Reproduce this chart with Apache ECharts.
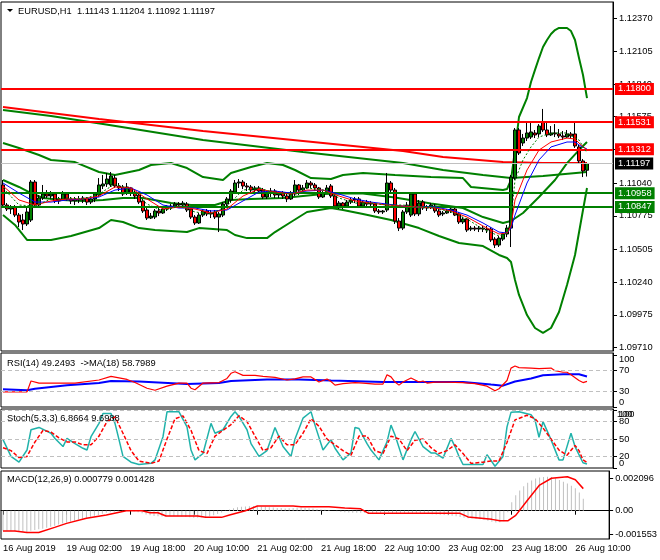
<!DOCTYPE html>
<html><head><meta charset="utf-8">
<script src="https://cdn.jsdelivr.net/npm/echarts@6/dist/echarts.min.js"></script>
<style>html,body{margin:0;padding:0;background:#fff}#c{width:660px;height:560px}</style>
</head><body><div id="c"></div>
<script>
// ---------- data ----------
const symbolName = 'EURUSD,H1';
const lastOHLC = ['1.11143','1.11204','1.11092','1.11197'];
const SLOTS = 153;
const timeTicks = ['16 Aug 2019','19 Aug 02:00','19 Aug 18:00','20 Aug 10:00','21 Aug 02:00','21 Aug 18:00','22 Aug 10:00','23 Aug 02:00','23 Aug 18:00','26 Aug 10:00'];
const priceTicks = [1.12370,1.12105,1.11840,1.11575,1.11310,1.11040,1.10775,1.10505,1.10240,1.09975,1.09710];
const rsiTicks = [100,70,30,0];
const stochTicks = [100,80,50,20,0];
const macdTicks = [0.002096,0,-0.001553];
const redLevels = [1.11800,1.11531,1.11312];
const greenLevels = [1.10958,1.10847];
const lastPrice = 1.11197;

const open = [
1.11024,1.10862,1.10830,1.10846,1.10781,1.10741,1.10709,1.10741,1.11048,1.10862,
1.10919,1.10951,1.10935,1.10951,1.10895,1.10911,1.10951,1.10911,1.10895,1.10911,
1.10903,1.10919,1.10886,1.10911,1.10943,1.11016,1.11032,1.11024,1.11080,1.11016,
1.11008,1.10959,1.11000,1.10959,1.10943,1.10895,1.10822,1.10757,1.10765,1.10814,
1.10798,1.10830,1.10846,1.10854,1.10870,1.10862,1.10870,1.10830,1.10765,1.10717,
1.10781,1.10814,1.10790,1.10806,1.10765,1.10781,1.10870,1.10903,1.10967,1.11040,
1.11048,1.11016,1.11008,1.10983,1.11000,1.10983,1.10927,1.10959,1.10975,1.10943,
1.10959,1.10935,1.10911,1.10951,1.11024,1.10983,1.11000,1.11040,1.11024,1.11000,
1.10927,1.10959,1.11016,1.10935,1.10854,1.10878,1.10854,1.10886,1.10903,1.10911,
1.10854,1.10886,1.10870,1.10870,1.10814,1.10806,1.10822,1.11040,1.10983,1.10733,
1.10676,1.10806,1.10781,1.10951,1.10790,1.10886,1.10838,1.10846,1.10854,1.10814,
1.10790,1.10798,1.10814,1.10830,1.10790,1.10725,1.10749,1.10668,1.10676,1.10668,
1.10676,1.10668,1.10668,1.10587,1.10539,1.10587,1.10628,1.10676,1.11080,1.11468,
1.11363,1.11403,1.11411,1.11444,1.11436,1.11533,1.11468,1.11428,1.11444,1.11436,
1.11420,1.11411,1.11436,1.11436,1.11331,1.11218,1.11143];
const close = [
1.10862,1.10830,1.10846,1.10781,1.10725,1.10709,1.10806,1.11048,1.10862,1.10919,
1.10951,1.10935,1.10951,1.10895,1.10911,1.10951,1.10911,1.10895,1.10911,1.10903,
1.10919,1.10886,1.10911,1.10951,1.11024,1.11032,1.11072,1.11097,1.11016,1.11000,
1.10951,1.11008,1.10959,1.10935,1.10886,1.10814,1.10757,1.10773,1.10814,1.10798,
1.10830,1.10846,1.10854,1.10870,1.10862,1.10878,1.10822,1.10765,1.10717,1.10781,
1.10814,1.10790,1.10798,1.10765,1.10790,1.10870,1.10911,1.10975,1.11040,1.11048,
1.11016,1.11008,1.10983,1.11000,1.10975,1.10927,1.10959,1.10975,1.10943,1.10959,
1.10935,1.10911,1.10951,1.11024,1.10983,1.11000,1.11040,1.11024,1.11000,1.10927,
1.10959,1.11000,1.10935,1.10854,1.10878,1.10854,1.10886,1.10903,1.10911,1.10854,
1.10886,1.10870,1.10878,1.10814,1.10806,1.10814,1.11040,1.10983,1.10733,1.10676,
1.10806,1.10862,1.10951,1.10790,1.10878,1.10838,1.10846,1.10862,1.10814,1.10781,
1.10798,1.10814,1.10830,1.10781,1.10725,1.10749,1.10660,1.10676,1.10668,1.10676,
1.10668,1.10660,1.10580,1.10539,1.10595,1.10628,1.10676,1.11088,1.11468,1.11282,
1.11403,1.11444,1.11452,1.11428,1.11500,1.11468,1.11428,1.11444,1.11436,1.11420,
1.11411,1.11436,1.11420,1.11339,1.11218,1.11137,1.11197];
const low = [
1.10846,1.10814,1.10790,1.10765,1.10684,1.10660,1.10693,1.10725,1.10838,1.10846,
1.10903,1.10919,1.10911,1.10878,1.10870,1.10903,1.10895,1.10870,1.10862,1.10878,
1.10878,1.10862,1.10870,1.10886,1.10927,1.10991,1.11008,1.11008,1.11000,1.10975,
1.10935,1.10943,1.10935,1.10911,1.10870,1.10798,1.10741,1.10749,1.10749,1.10773,
1.10790,1.10814,1.10822,1.10838,1.10846,1.10854,1.10806,1.10749,1.10701,1.10709,
1.10765,1.10773,1.10757,1.10749,1.10644,1.10765,1.10846,1.10886,1.10951,1.11000,
1.10991,1.10975,1.10959,1.10959,1.10959,1.10911,1.10911,1.10927,1.10919,1.10919,
1.10911,1.10886,1.10903,1.10935,1.10943,1.10951,1.10991,1.11000,1.10975,1.10911,
1.10919,1.10951,1.10919,1.10838,1.10830,1.10830,1.10838,1.10870,1.10878,1.10838,
1.10838,1.10854,1.10846,1.10798,1.10790,1.10790,1.10806,1.10967,1.10709,1.10652,
1.10660,1.10790,1.10765,1.10773,1.10773,1.10822,1.10814,1.10830,1.10798,1.10765,
1.10773,1.10790,1.10798,1.10773,1.10709,1.10709,1.10644,1.10652,1.10652,1.10644,
1.10644,1.10636,1.10564,1.10515,1.10523,1.10572,1.10603,1.10523,1.11064,1.11266,
1.11339,1.11379,1.11395,1.11403,1.11411,1.11452,1.11411,1.11420,1.11411,1.11403,
1.11387,1.11403,1.11403,1.11323,1.11201,1.11088,1.11092];
const high = [
1.11064,1.10878,1.10862,1.10862,1.10798,1.10790,1.10838,1.11064,1.11064,1.10943,
1.11024,1.10983,1.10975,1.10967,1.10927,1.10975,1.10967,1.10927,1.10927,1.10935,
1.10935,1.10927,1.10927,1.10967,1.11080,1.11105,1.11121,1.11129,1.11105,1.11040,
1.11024,1.11040,1.11008,1.10983,1.10967,1.10911,1.10846,1.10798,1.10830,1.10838,
1.10846,1.10862,1.10870,1.10886,1.10886,1.10895,1.10886,1.10846,1.10781,1.10798,
1.10830,1.10830,1.10822,1.10822,1.10806,1.10886,1.10927,1.10991,1.11064,1.11072,
1.11064,1.11040,1.11024,1.11016,1.11016,1.11000,1.10975,1.11000,1.10991,1.10975,
1.10975,1.10959,1.10975,1.11064,1.11032,1.11024,1.11064,1.11056,1.11040,1.11008,
1.10975,1.11024,1.11032,1.10951,1.10895,1.10886,1.10903,1.10919,1.10927,1.10927,
1.10895,1.10903,1.10895,1.10878,1.10830,1.10822,1.11121,1.11056,1.11000,1.10757,
1.10822,1.10886,1.10967,1.10967,1.10903,1.10903,1.10862,1.10878,1.10870,1.10830,
1.10814,1.10830,1.10846,1.10846,1.10806,1.10765,1.10757,1.10693,1.10693,1.10693,
1.10693,1.10693,1.10684,1.10603,1.10612,1.10644,1.10701,1.11105,1.11484,1.11484,
1.11436,1.11525,1.11525,1.11468,1.11516,1.11638,1.11533,1.11500,1.11516,1.11476,
1.11460,1.11468,1.11452,1.11525,1.11347,1.11234,1.11204];

const maRedLong = [[0,1.11654],[24,1.11557],[50,1.11460],[75,1.11379],[100,1.11298],[110,1.11250],[125,1.11209],[135,1.11201],[146,1.11201]];
const maGreenLong = [[0,1.11629],[12,1.11581],[25,1.11516],[50,1.11387],[75,1.11290],[100,1.11201],[110,1.11145],[120,1.11105],[127,1.11080],[135,1.11097],[146,1.11129]];
const bbUpper = [[0,1.11363],[4,1.11323],[9,1.11266],[12,1.11226],[18,1.11209],[24,1.11129],[28,1.11105],[34,1.11145],[37,1.11185],[42,1.11201],[46,1.11161],[50,1.11088],[55,1.11064],[57,1.11121],[62,1.11169],[66,1.11201],[70,1.11185],[73,1.11145],[77,1.11080],[82,1.11072],[85,1.11105],[90,1.11121],[98,1.11105],[107,1.11088],[115,1.11080],[117,1.11008],[125,1.10983],[126,1.10991],[127,1.11064],[128,1.11306],[129,1.11573],[131,1.11726],[132,1.11856],[133,1.11953],[134,1.12049],[135,1.12138],[136,1.12195],[137,1.12243],[138,1.12275],[139,1.12292],[141,1.12292],[142,1.12267],[143,1.12195],[144,1.12049],[145,1.11912],[146,1.11726]];
const bbLower = [[0,1.10781],[3,1.10701],[6,1.10580],[12,1.10580],[17,1.10612],[24,1.10676],[27,1.10741],[30,1.10725],[34,1.10676],[38,1.10660],[46,1.10644],[49,1.10676],[56,1.10660],[58,1.10620],[61,1.10595],[66,1.10595],[68,1.10644],[72,1.10725],[76,1.10806],[82,1.10838],[85,1.10822],[90,1.10790],[97,1.10741],[104,1.10676],[109,1.10612],[114,1.10555],[120,1.10531],[124,1.10459],[126,1.10434],[127,1.10402],[128,1.10256],[129,1.10136],[131,1.09974],[133,1.09869],[135,1.09829],[137,1.09869],[139,1.09998],[141,1.10216],[143,1.10459],[145,1.10822],[146,1.11000]];
const bbMid = [[0,1.11064],[4,1.11008],[7,1.10959],[10,1.10919],[15,1.10903],[20,1.10895],[25,1.10903],[30,1.10919],[35,1.10919],[42,1.10878],[47,1.10862],[53,1.10862],[57,1.10903],[62,1.10911],[70,1.10919],[80,1.10951],[85,1.10955],[90,1.10955],[98,1.10923],[107,1.10875],[115,1.10838],[120,1.10765],[125,1.10717],[127,1.10733],[130,1.10798],[134,1.10927],[138,1.11064],[141,1.11201],[144,1.11306],[146,1.11371]];
const maFast = [[0,1.11000],[4,1.10862],[8,1.10854],[12,1.10911],[16,1.10919],[20,1.10911],[24,1.10951],[28,1.11032],[32,1.10983],[36,1.10870],[40,1.10814],[44,1.10854],[48,1.10806],[52,1.10790],[56,1.10854],[60,1.10983],[64,1.11000],[68,1.10959],[72,1.10951],[76,1.11000],[80,1.10983],[84,1.10919],[88,1.10878],[92,1.10878],[96,1.10862],[100,1.10862],[104,1.10846],[108,1.10838],[112,1.10806],[116,1.10749],[120,1.10668],[124,1.10612],[126,1.10636],[127,1.10741],[128,1.11064],[130,1.11226],[132,1.11331],[134,1.11411],[137,1.11444],[141,1.11444],[144,1.11387],[146,1.11282]];
const maMid = [[0,1.11016],[4,1.10903],[8,1.10862],[12,1.10895],[16,1.10911],[20,1.10911],[24,1.10935],[28,1.11008],[32,1.11000],[36,1.10911],[40,1.10830],[44,1.10846],[48,1.10830],[52,1.10798],[56,1.10830],[60,1.10935],[64,1.10991],[68,1.10967],[72,1.10951],[76,1.10983],[80,1.10983],[84,1.10935],[88,1.10895],[92,1.10878],[96,1.10862],[100,1.10854],[104,1.10846],[108,1.10838],[112,1.10814],[116,1.10765],[120,1.10693],[124,1.10628],[126,1.10636],[127,1.10693],[128,1.10903],[129,1.10983],[131,1.11145],[134,1.11306],[137,1.11371],[141,1.11403],[143,1.11395],[144,1.11363],[146,1.11306]];
const maSlow = [[0,1.11040],[4,1.10959],[8,1.10886],[12,1.10886],[16,1.10903],[20,1.10911],[24,1.10927],[28,1.10983],[32,1.11000],[36,1.10943],[40,1.10862],[44,1.10838],[48,1.10838],[52,1.10814],[56,1.10822],[60,1.10895],[64,1.10967],[68,1.10975],[72,1.10959],[76,1.10975],[80,1.10983],[84,1.10951],[88,1.10911],[92,1.10886],[96,1.10870],[100,1.10854],[104,1.10846],[108,1.10846],[112,1.10822],[116,1.10781],[120,1.10717],[124,1.10644],[126,1.10636],[127,1.10676],[128,1.10781],[131,1.11040],[134,1.11226],[137,1.11331],[141,1.11371],[143,1.11371],[144,1.11347],[146,1.11314]];

const rsi = [[0,29],[6,29],[7,50],[9,46],[12,46],[18,46],[24,52],[27,59],[31,53],[33,47],[36,36],[38,32],[41,40],[44,46],[46,46],[47,36],[48,33],[50,46],[54,47],[56,55],[57,65],[58,68],[60,61],[63,61],[65,59],[68,57],[71,52],[73,54],[75,58],[77,58],[79,48],[81,54],[82,49],[83,42],[85,45],[88,47],[90,46],[93,44],[95,44],[96,62],[97,58],[98,48],[99,42],[100,48],[102,56],[104,48],[105,50],[106,46],[108,48],[111,48],[115,47],[118,45],[121,40],[123,31],[124,35],[126,51],[127,75],[128,79],[129,76],[132,75],[134,74],[137,75],[138,70],[140,67],[141,67],[142,62],[144,51],[145,47],[146,49.2493]];
const rsiMa = [[0,34],[6,32],[8,35],[16,42],[24,46],[27,50],[34,49],[46,44],[54,46],[57,50],[66,53],[74,53],[82,51],[95,48],[115,48],[122,43],[125,41],[128,49],[132,55],[135,61],[140,63],[144,63],[146,58.7989]];
const stochMain = [[0,49],[2,20],[4,10],[6,31],[7,66],[9,70],[12,60],[13,51],[15,37],[16,51],[18,42],[20,34],[21,31],[22,54],[24,77],[25,94],[27,94],[28,77],[29,49],[30,20],[32,10],[34,6],[37,8],[38,14],[40,54],[41,97],[44,97],[46,71],[47,31],[48,14],[50,25],[52,77],[53,60],[55,66],[57,89],[58,97],[59,89],[61,66],[62,42],[64,20],[66,30],[68,70],[70,37],[72,20],[73,50],[75,86],[77,97],[78,74],[80,31],[82,49],[83,34],[85,14],[87,26],[88,70],[89,68],[91,42],[92,31],[94,14],[96,45],[97,74],[98,57],[100,14],[102,49],[103,63],[105,37],[107,26],[108,26],[110,17],[112,51],[113,37],[114,20],[115,6],[117,6],[120,6],[121,23],[123,3],[125,20],[126,71],[127,96],[129,97],[132,92],[133,83],[134,53],[135,80],[137,49],[139,14],[140,14],[142,60],[143,37],[145,9],[146,6.8664]];
const stochSignal = [[0,35],[2,30],[4,18],[6,20],[8,45],[10,65],[12,62],[14,52],[16,45],[18,45],[20,40],[22,40],[24,55],[26,80],[28,88],[30,60],[32,30],[34,12],[37,8],[39,12],[41,50],[43,85],[45,90],[47,65],[49,30],[51,25],[53,55],[55,65],[57,75],[59,90],[61,80],[63,55],[65,30],[67,35],[69,55],[71,40],[73,40],[75,60],[77,85],[79,72],[81,50],[83,40],[85,30],[87,22],[89,55],[91,55],[93,30],[95,25],[97,55],[99,50],[101,30],[103,48],[105,50],[107,35],[109,25],[111,30],[113,40],[115,25],[117,8],[120,10],[122,12],[124,12],[126,44],[128,83],[131,91],[133,85],[135,69],[137,50],[139,31],[141,22],[143,39],[144,30],[145,14],[146,9.6988]];
const macdMain = [
-0.00128,-0.00130,-0.00132,-0.00134,-0.00136,-0.00137,-0.00138,-0.00130,-0.00125,-0.00120,
-0.00116,-0.00110,-0.00104,-0.00098,-0.00090,-0.00083,-0.00076,-0.00070,-0.00063,-0.00057,
-0.00052,-0.00045,-0.00039,-0.00033,-0.00027,-0.00020,-0.00014,-0.00010,-0.00006,-0.00004,
-0.00002,-0.00001,-0.00002,-0.00005,-0.00010,-0.00017,-0.00025,-0.00030,-0.00034,-0.00036,
-0.00037,-0.00036,-0.00035,-0.00035,-0.00036,-0.00038,-0.00040,-0.00043,-0.00046,-0.00045,
-0.00042,-0.00040,-0.00036,-0.00030,-0.00022,-0.00012,-0.00002,0.00008,0.00016,0.00022,
0.00026,0.00028,0.00029,0.00030,0.00029,0.00027,0.00025,0.00022,0.00020,0.00018,
0.00017,0.00015,0.00016,0.00018,0.00019,0.00020,0.00018,0.00016,0.00014,0.00010,
0.00008,0.00006,0.00004,0.00000,-0.00004,-0.00008,-0.00010,-0.00012,-0.00013,-0.00014,
-0.00014,-0.00015,-0.00016,-0.00018,-0.00020,-0.00020,-0.00015,-0.00012,-0.00015,-0.00020,
-0.00022,-0.00022,-0.00020,-0.00020,-0.00020,-0.00020,-0.00021,-0.00022,-0.00023,-0.00024,
-0.00026,-0.00028,-0.00030,-0.00032,-0.00036,-0.00040,-0.00045,-0.00048,-0.00050,-0.00052,
-0.00055,-0.00058,-0.00065,-0.00072,-0.00076,-0.00074,-0.00068,-0.00010,0.00055,0.00100,
0.00130,0.00158,0.00180,0.00195,0.00208,0.00215,0.00218,0.00220,0.00218,0.00210,
0.00198,0.00188,0.00176,0.00162,0.00145,0.00118,0.000779];
const macdSignal = [[0,-0.00131],[3,-0.00131],[6,-0.00141],[9,-0.00141],[13,-0.00108],[16,-0.00082],[21,-0.00049],[26,-0.00028],[31,0.00000],[35,0.00000],[37,-0.00013],[39,-0.00013],[41,-0.00034],[49,-0.00034],[51,-0.00043],[55,-0.00043],[57,-0.00028],[61,0.00000],[64,0.00030],[73,0.00030],[75,0.00026],[82,0.00026],[86,0.00018],[90,0.00012],[92,-0.00017],[115,-0.00017],[117,-0.00040],[123,-0.00056],[125,-0.00065],[127,-0.00065],[129,-0.00030],[132,0.00069],[135,0.00166],[138,0.00210],[142,0.00220],[144,0.00200],[146,0.001428]];

// ---------- chart ----------
const FONT = 'Liberation Sans';
const FS = 9.3;
const cats = []; for (let i = 0; i < SLOTS; i++) cats.push(String(i));
const candles = open.map((o, i) => [o, close[i], low[i], high[i]]);

const gridBase = {left:1, width:612, show:true, borderColor:'#000', borderWidth:1, backgroundColor:'transparent'};
const grids = [
  Object.assign({top:2, height:349}, gridBase),
  Object.assign({top:353, height:54}, gridBase),
  Object.assign({top:409, height:59}, gridBase),
  Object.assign({top:471, height:68}, gridBase)
];
const isTick = (i) => i % 16 === 0 && timeTicks[i / 16] !== undefined;
const xAxes = grids.map((g, k) => {
  const a = {type:'category', gridIndex:k, data:cats, boundaryGap:true,
    axisLine:{show:false}, axisTick:{show:false}, axisLabel:{show:false}, splitLine:{show:false}};
  if (k === 3) {
    a.axisLine = {show:true, lineStyle:{color:'#000'}};
    a.axisTick = {show:true, alignWithLabel:true, interval:(i) => isTick(i), length:4, lineStyle:{color:'#000'}};
    a.axisLabel = {show:true, interval:(i) => isTick(i), align:'left', margin:5,
      formatter:(v) => { const i = +v; return isTick(i) ? timeTicks[i / 16] : ''; },
      color:'#000', fontSize:FS, fontFamily:FONT};
  }
  return a;
});
const lbl = {color:'#000', fontSize:FS, fontFamily:FONT};
const RANGES = [[1.096834, 1.125016], [-0.4, 104.3], [0, 101.8], [-0.00183, 0.002568]];
function yAx(k, tickVals, labelVals, fmt) {
  return {type:'value', gridIndex:k, position:'right', min:RANGES[k][0], max:RANGES[k][1], splitLine:{show:false},
    axisLine:{show:true, lineStyle:{color:'#000'}},
    axisTick:{show:true, length:4, customValues:tickVals, lineStyle:{color:'#000'}},
    axisLabel:Object.assign({customValues:labelVals, formatter:fmt, margin:6, hideOverlap:false}, lbl)};
}
// label-only axis (for edge labels MT4 pulls inside the panel)
function yLab(k, vals, valign) {
  return {type:'value', gridIndex:k, position:'right', min:RANGES[k][0], max:RANGES[k][1], splitLine:{show:false},
    axisLine:{show:false}, axisTick:{show:false},
    axisLabel:Object.assign({customValues:vals, margin:6, verticalAlign:valign, formatter:(v) => String(v)}, lbl)};
}
const yAxes = [
  yAx(0, priceTicks, priceTicks, (v) => v.toFixed(5)),
  yAx(1, rsiTicks, [70,30], (v) => String(v)),
  yAx(2, stochTicks, [80,50,20], (v) => String(v)),
  yAx(3, macdTicks, macdTicks, (v) => Math.abs(v) < 1e-9 ? '0.00' : v.toFixed(6)),
  yLab(1, [100], 'top'),
  yLab(1, [0], 'bottom'),
  yLab(2, [100], 'top'),
  yLab(2, [0], 'bottom')
];

function line(data, k, color, width, type, z) {
  return {type:'line', xAxisIndex:k, yAxisIndex:k, data:data, showSymbol:false, symbol:'none', silent:true,
    lineStyle:{color:color, width:width, type:type || 'solid'}, z:z || 3, animation:false};
}
const tag = (v, bg) => ({show:true, position:'end', distance:2, formatter:v.toFixed(5), color:'#fff',
  backgroundColor:bg, padding:[2,3,1,3], fontSize:FS, fontFamily:FONT});
const levelData = [{yAxis:lastPrice, lineStyle:{color:'#c0c0c0', width:1, type:'solid'}, label:tag(lastPrice, '#000000')}];
redLevels.forEach(v => levelData.push({yAxis:v, lineStyle:{color:'#ff0000', width:2, type:'solid'}, label:tag(v, '#ff0000')}));
greenLevels.forEach(v => levelData.push({yAxis:v, lineStyle:{color:'#008000', width:2, type:'solid'}, label:tag(v, '#008000')}));

const dashLines = (vals) => ({silent:true, symbol:'none', animation:false, precision:6, label:{show:false},
  lineStyle:{color:'#c0c0c0', type:[4,3], width:1}, data:vals.map(v => ({yAxis:v}))});

const series = [
  line(maRedLong, 0, '#ff0000', 2),
  line(maGreenLong, 0, '#008000', 2),
  line(bbUpper, 0, '#008000', 2),
  line(bbLower, 0, '#008000', 2),
  line(bbMid, 0, '#008000', 2),
  {type:'candlestick', xAxisIndex:0, yAxisIndex:0, data:candles, barWidth:3, silent:true, z:4, animation:false,
    itemStyle:{color:'#008000', color0:'#ff0000', borderColor:'#000', borderColor0:'#000', borderWidth:1},
    markLine:{silent:true, symbol:'none', animation:false, precision:6, data:levelData}},
  line(maSlow, 0, '#0000ff', 1, 'solid', 5),
  line(maMid, 0, '#ff0000', 1, 'solid', 5),
  line(maFast, 0, '#008000', 1, [2,2], 5),
  Object.assign(line(rsiMa, 1, '#0000ff', 2), {markLine:dashLines([70,30])}),
  line(rsi, 1, '#ff0000', 1.2, 'solid', 4),
  Object.assign(line(stochMain, 2, '#20b2aa', 1.5), {markLine:dashLines([100,80,50,20])}),
  line(stochSignal, 2, '#ff0000', 1.5, [4,2], 4),
  {type:'bar', xAxisIndex:3, yAxisIndex:3, data:macdMain, barWidth:1, silent:true, animation:false,
    itemStyle:{color:'#c0c0c0'}},
  line(macdSignal, 3, '#ff0000', 1.5, 'solid', 4)
];

const txt = (s, x, y) => ({type:'text', x:x, y:y, silent:true, z:100,
  style:{text:s, fill:'#000', font:FS + 'px "' + FONT + '"', verticalAlign:'middle'}});
const graphic = [
  {type:'polygon', silent:true, z:100, shape:{points:[[7,9],[13,9],[10,12]]}, style:{fill:'#000'}},
  txt(symbolName + '  ' + lastOHLC.join(' '), 18, 11),
  txt('RSI(14) 49.2493  ->MA(18) 58.7989', 7, 363),
  txt('Stoch(5,3,3) 6.8664 9.6988', 7, 418),
  txt('MACD(12,26,9) 0.000779 0.001428', 7, 479),
  txt('100', 617, 414)
];

const chart = echarts.init(document.getElementById('c'), null, {renderer:'canvas', width:660, height:560});
chart.setOption({backgroundColor:'#fff', animation:false, grid:grids, xAxis:xAxes, yAxis:yAxes, series:series, graphic:graphic});
</script></body></html>
